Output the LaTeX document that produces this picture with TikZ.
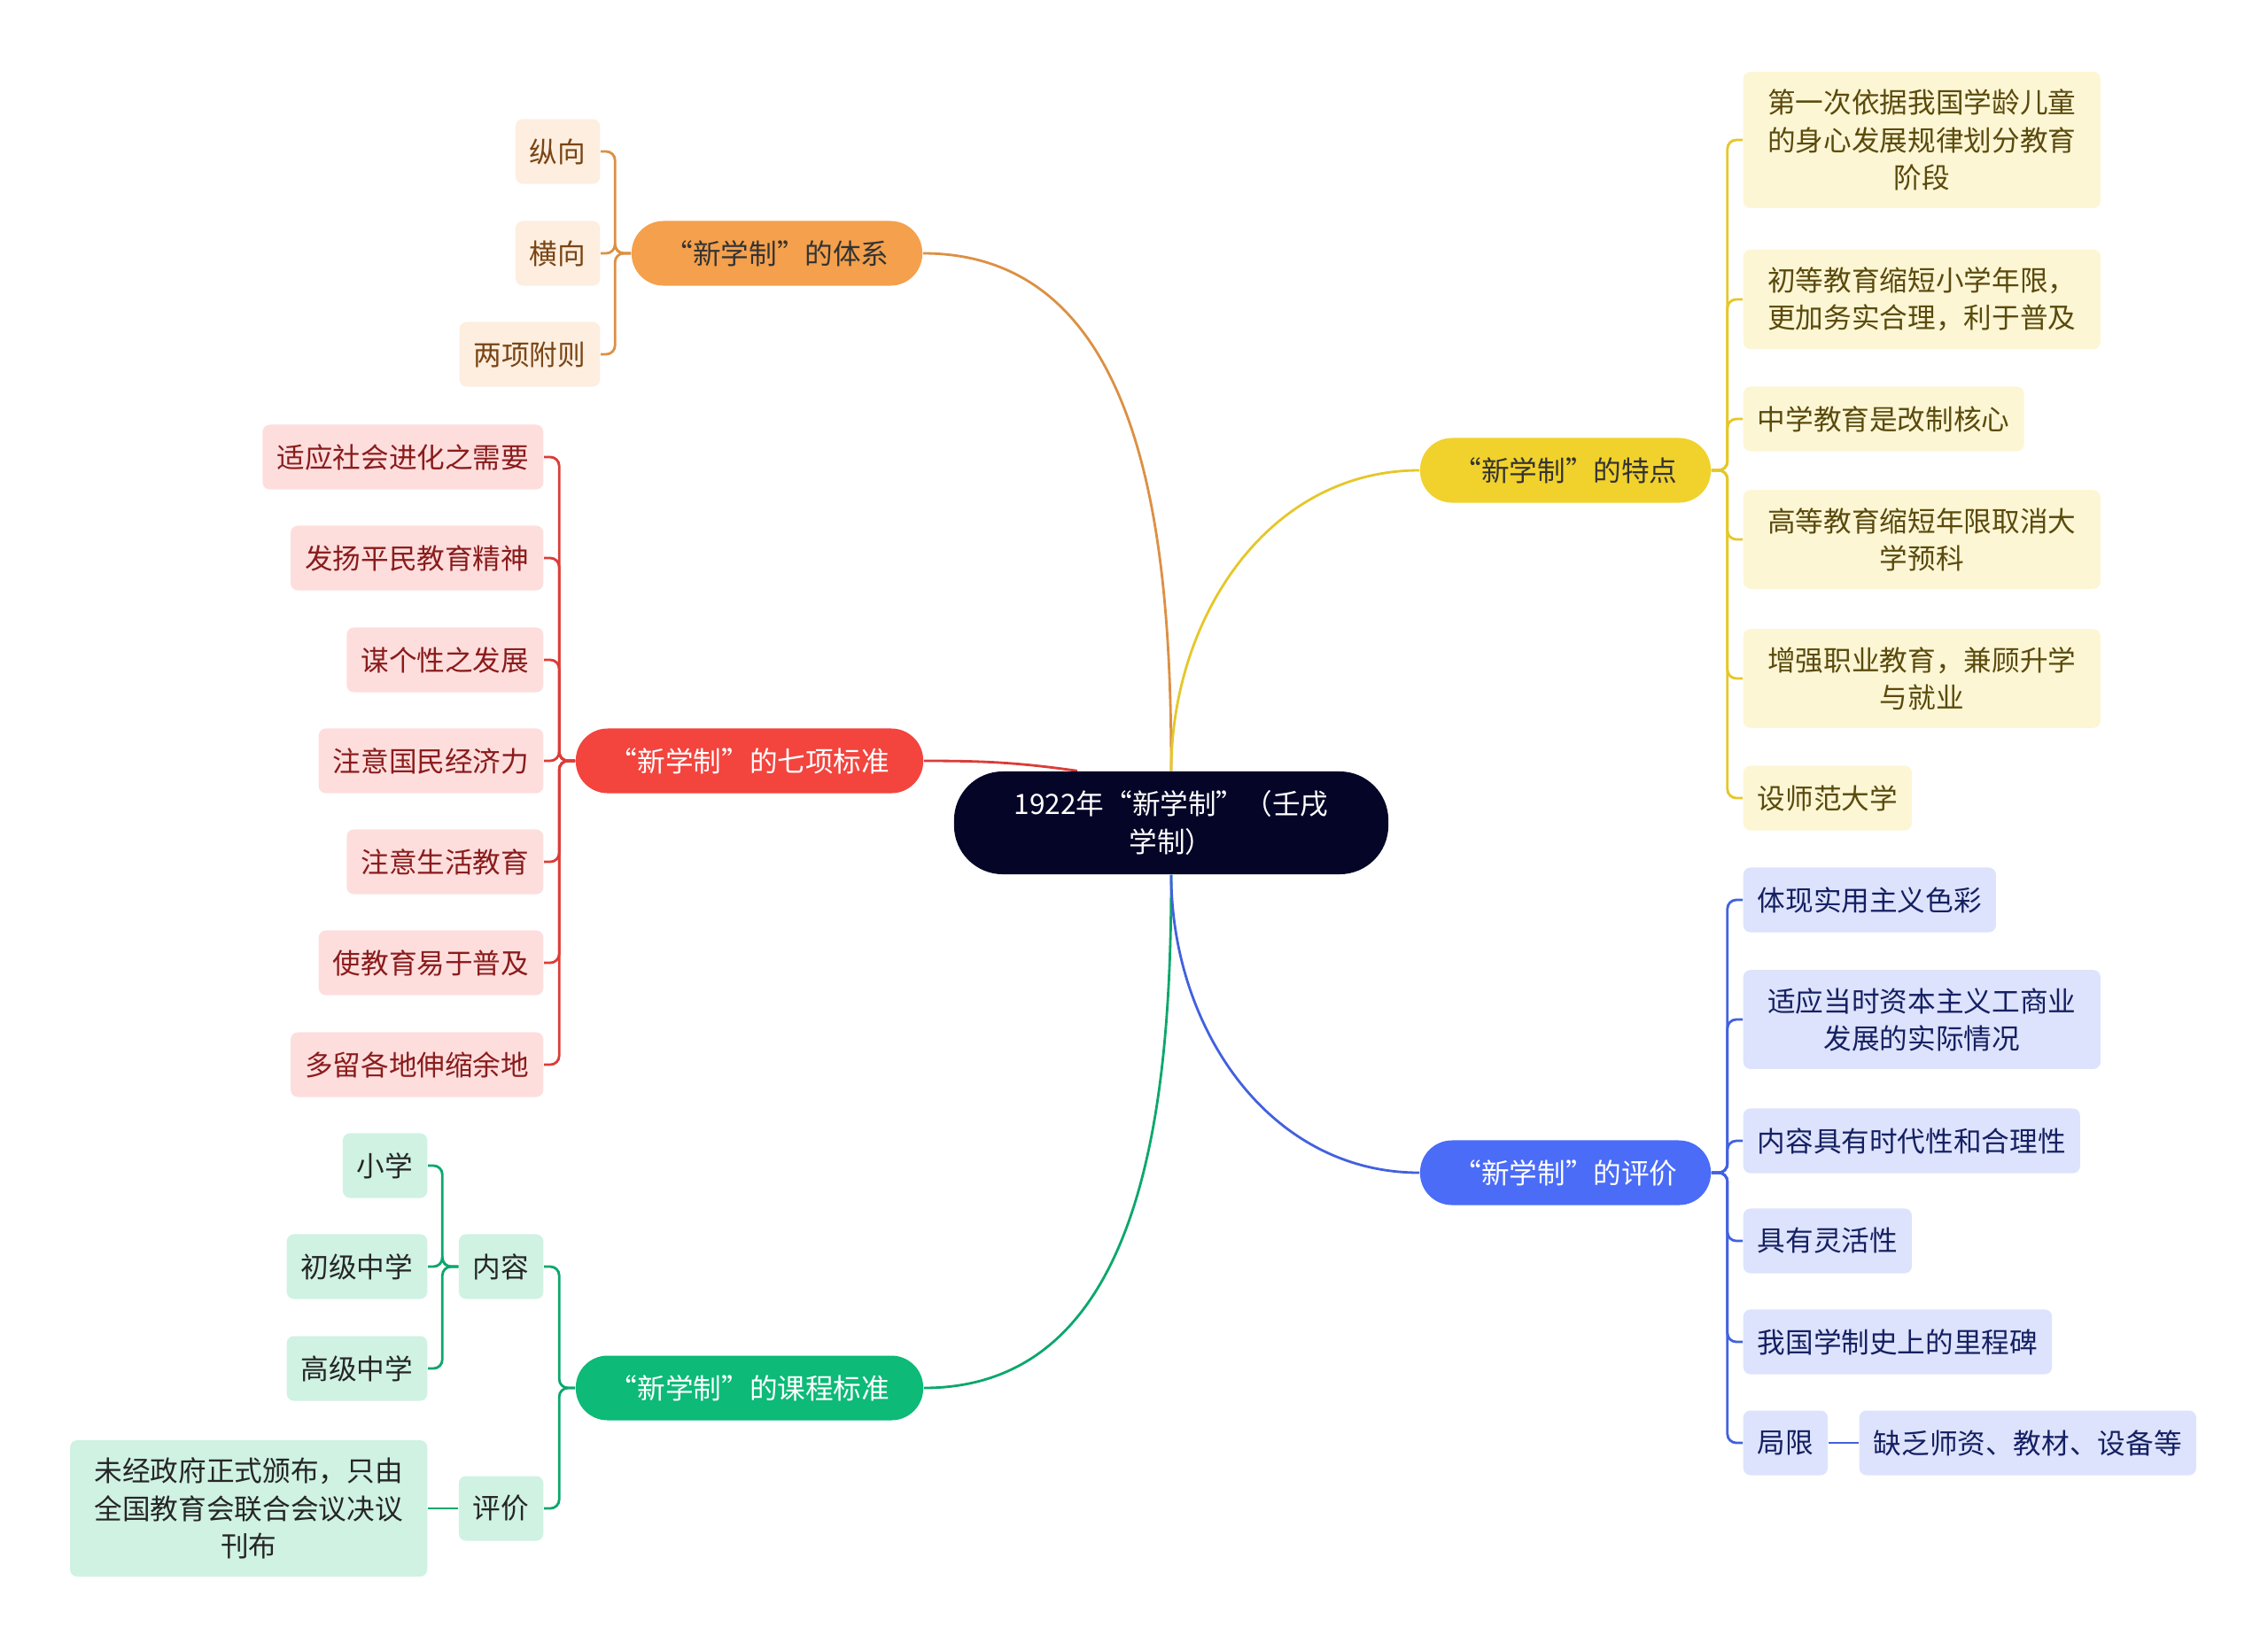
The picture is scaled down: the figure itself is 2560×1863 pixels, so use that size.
\documentclass[tikz,border=0pt]{standalone}
\usepackage{fontspec}
\setmainfont{Noto Sans CJK SC}
\usepackage{xcolor}
\usepackage{tikz}
\usetikzlibrary{backgrounds}

\definecolor{rootc}{HTML}{050528}
\definecolor{orangec}{HTML}{F4A04C}
\definecolor{orangel}{HTML}{FDEEE0}
\definecolor{oranget}{HTML}{7A4514}
\definecolor{redc}{HTML}{F3443E}
\definecolor{redl}{HTML}{FDDEDD}
\definecolor{redt}{HTML}{8A1C1C}
\definecolor{greenc}{HTML}{0DBA78}
\definecolor{greenl}{HTML}{CFF2E3}
\definecolor{yellowc}{HTML}{F1D12C}
\definecolor{yellowl}{HTML}{FCF6D5}
\definecolor{yellowt}{HTML}{5A4A0C}
\definecolor{bluec}{HTML}{4A6CF7}
\definecolor{bluel}{HTML}{DDE3FC}
\definecolor{bluet}{HTML}{152062}

\begin{document}
\begin{tikzpicture}[x=0.01cm, y=-0.01cm,
font=\fontsize{9pt}{12pt}\selectfont,
root/.style={fill=rootc, text=white, rounded corners=0.55cm, minimum width=4.9cm, minimum height=1.16cm, align=center},
pill/.style={rounded corners=0.36cm, minimum width=3.28cm, minimum height=0.73cm},
leaf/.style={rounded corners=0.08cm, minimum height=0.73cm, inner xsep=0.16cm, inner ysep=0.2cm, align=center},
wide/.style={minimum width=4.03cm},
line/.style={line width=0.8pt},
sub/.style={line width=0.8pt, rounded corners=0.1cm}
]
\useasboundingbox (0,0) rectangle (2560,1863);

% centre
\node[root] (root) at (1322,929) {1922年“新学制”（壬戌\\学制）};

% main topics
\node[pill, fill=orangec, text=black!80] (tixi) at (877,286) {“新学制”的体系};
\node[pill, fill=redc, text=white, minimum width=3.92cm] (biaozhun) at (846,859) {“新学制”的七项标准};
\node[pill, fill=greenc, text=white, minimum width=3.92cm] (kecheng) at (846,1567) {“新学制”的课程标准};
\node[pill, fill=yellowc, text=black!80] (tedian) at (1767,531) {“新学制”的特点};
\node[pill, fill=bluec, text=white] (pingjia) at (1767,1324) {“新学制”的评价};

% system
\node[leaf, fill=orangel, text=oranget, anchor=east] (zong) at (678,171) {纵向};
\node[leaf, fill=orangel, text=oranget, anchor=east] (heng) at (678,286) {横向};
\node[leaf, fill=orangel, text=oranget, anchor=east] (fuze) at (678,400) {两项附则};

% seven standards
\node[leaf, fill=redl, text=redt, anchor=east] (bz1) at (614,516) {适应社会进化之需要};
\node[leaf, fill=redl, text=redt, anchor=east] (bz2) at (614,630) {发扬平民教育精神};
\node[leaf, fill=redl, text=redt, anchor=east] (bz3) at (614,745) {谋个性之发展};
\node[leaf, fill=redl, text=redt, anchor=east] (bz4) at (614,859) {注意国民经济力};
\node[leaf, fill=redl, text=redt, anchor=east] (bz5) at (614,973) {注意生活教育};
\node[leaf, fill=redl, text=redt, anchor=east] (bz6) at (614,1087) {使教育易于普及};
\node[leaf, fill=redl, text=redt, anchor=east] (bz7) at (614,1202) {多留各地伸缩余地};

% curriculum
\node[leaf, fill=greenl, text=black!85, anchor=east] (neirong) at (614,1430) {内容};
\node[leaf, fill=greenl, text=black!85, anchor=east] (kpingjia) at (614,1703) {评价};
\node[leaf, fill=greenl, text=black!85, anchor=east] (xiaoxue) at (483,1316) {小学};
\node[leaf, fill=greenl, text=black!85, anchor=east] (chuzhong) at (483,1430) {初级中学};
\node[leaf, fill=greenl, text=black!85, anchor=east] (gaozhong) at (483,1545) {高级中学};
\node[leaf, wide, fill=greenl, text=black!85, anchor=east] (kanbu) at (483,1703) {未经政府正式颁布，只由\\全国教育会联合会议决议\\刊布};

% features
\node[leaf, wide, fill=yellowl, text=yellowt, anchor=west] (td1) at (1967,158) {第一次依据我国学龄儿童\\的身心发展规律划分教育\\阶段};
\node[leaf, wide, fill=yellowl, text=yellowt, anchor=west] (td2) at (1967,338) {初等教育缩短小学年限，\\更加务实合理，利于普及};
\node[leaf, fill=yellowl, text=yellowt, anchor=west] (td3) at (1967,473) {中学教育是改制核心};
\node[leaf, wide, fill=yellowl, text=yellowt, anchor=west] (td4) at (1967,609) {高等教育缩短年限取消大\\学预科};
\node[leaf, wide, fill=yellowl, text=yellowt, anchor=west] (td5) at (1967,766) {增强职业教育，兼顾升学\\与就业};
\node[leaf, fill=yellowl, text=yellowt, anchor=west] (td6) at (1967,901) {设师范大学};

% evaluation
\node[leaf, fill=bluel, text=bluet, anchor=west] (pj1) at (1967,1016) {体现实用主义色彩};
\node[leaf, wide, fill=bluel, text=bluet, anchor=west] (pj2) at (1967,1151) {适应当时资本主义工商业\\发展的实际情况};
\node[leaf, fill=bluel, text=bluet, anchor=west] (pj3) at (1967,1288) {内容具有时代性和合理性};
\node[leaf, fill=bluel, text=bluet, anchor=west] (pj4) at (1967,1401) {具有灵活性};
\node[leaf, fill=bluel, text=bluet, anchor=west] (pj5) at (1967,1515) {我国学制史上的里程碑};
\node[leaf, fill=bluel, text=bluet, anchor=west] (juxian) at (1967,1629) {局限};
\node[leaf, fill=bluel, text=bluet, anchor=west] (quefa) at (2098,1629) {缺乏师资、教材、设备等};

\begin{scope}[on background layer]
% root to topics
\draw[line, orangec!90!black] (tixi.east) to[out=0, in=90] (root.north);
\draw[line, redc!90!black] (biaozhun.east) to[out=0, in=172] ([xshift=-1.06cm]root.north);
\draw[line, greenc!90!black] (kecheng.east) to[out=0, in=-90] (root.south);
\draw[line, yellowc!95!black] (root.north) to[out=90, in=180] (tedian.west);
\draw[line, bluec!90!black] (root.south) to[out=-90, in=180] (pingjia.west);
\end{scope}

% branches
\foreach \n in {zong,heng,fuze}
  \draw[sub, orangec!90!black] (tixi.west) -- ++(-18,0) |- (\n.east);
\foreach \n in {bz1,bz2,bz3,bz4,bz5,bz6,bz7}
  \draw[sub, redc!90!black] (biaozhun.west) -- ++(-18,0) |- (\n.east);
\foreach \n in {neirong,kpingjia}
  \draw[sub, greenc!90!black] (kecheng.west) -- ++(-18,0) |- (\n.east);
\foreach \n in {xiaoxue,chuzhong,gaozhong}
  \draw[sub, greenc!90!black] (neirong.west) -- ++(-18,0) |- (\n.east);
\draw[line, greenc!90!black] (kpingjia.west) -- (kanbu.east);
\foreach \n in {td1,td2,td3,td4,td5,td6}
  \draw[sub, yellowc!95!black] (tedian.east) -- ++(18,0) |- (\n.west);
\foreach \n in {pj1,pj2,pj3,pj4,pj5,juxian}
  \draw[sub, bluec!90!black] (pingjia.east) -- ++(18,0) |- (\n.west);
\draw[line, bluec!90!black] (juxian.east) -- (quefa.west);
\end{tikzpicture}
\end{document}
